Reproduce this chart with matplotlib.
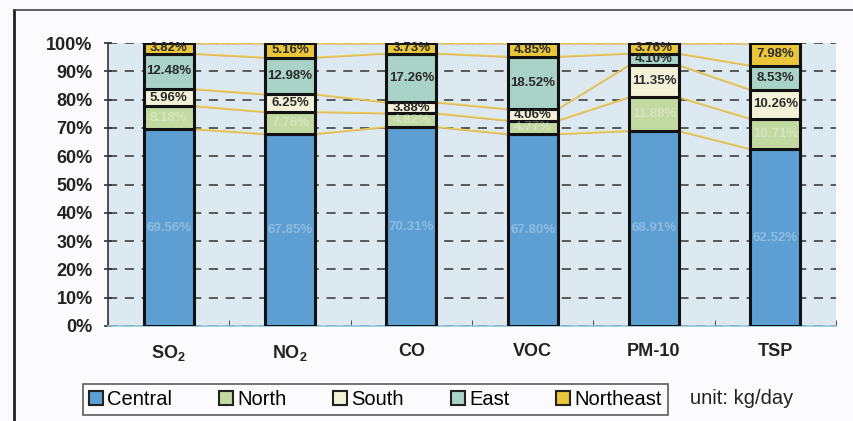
import matplotlib
matplotlib.use("Agg")
import matplotlib.pyplot as plt
from matplotlib.patches import Rectangle
import numpy as np

plt.rcParams['font.family'] = ['Liberation Sans', 'DejaVu Sans']
plt.rcParams['mathtext.fontset'] = 'custom'
plt.rcParams['mathtext.rm'] = 'Liberation Sans'
plt.rcParams['mathtext.bf'] = 'Liberation Sans:bold'
plt.rcParams['mathtext.default'] = 'bf'

categories = [r'SO$_2$', r'NO$_2$', 'CO', 'VOC', 'PM-10', 'TSP']
series_names = ['Central', 'North', 'South', 'East', 'Northeast']
central = [69.56, 67.85, 70.31, 67.80, 68.91, 62.52]
north = [8.18, 7.76, 4.82, 4.77, 11.88, 10.71]
south = [5.96, 6.25, 3.88, 4.06, 11.35, 10.26]
east = [12.48, 12.98, 17.26, 18.52, 4.10, 8.53]
northeast = [3.82, 5.16, 3.73, 4.85, 3.76, 7.98]
yticklabels = ['0%', '10%', '20%', '30%', '40%', '50%', '60%', '70%', '80%', '90%', '100%']
unit_text = 'unit: kg/day'

colors = ['#5d9fd3', '#c3d9a2', '#f3f1d8', '#a9d3c6', '#e9c63a']
data = [central, north, south, east, northeast]

fig = plt.figure(figsize=(8.54, 4.21), dpi=100)
fig.patch.set_facecolor('#fbfbfd')
ax = fig.add_axes([108/854, 1-326/421, (836-108)/854, (326-43)/421])
ax.set_facecolor('#dde9f1')

x = np.arange(len(categories))
w = 50/121.5
bottom = np.zeros(len(categories))
tops = []
for vals, col in zip(data, colors):
    vals = np.array(vals)
    ax.bar(x, vals, w, bottom=bottom, color=col, edgecolor='#111111', linewidth=2.2, zorder=3)
    bottom = bottom + vals
    tops.append(bottom.copy())

# series lines between bars
for t in tops:
    for i in range(len(categories) - 1):
        ax.plot([x[i] + w/2, x[i+1] - w/2], [t[i], t[i+1]], color='#e8cf4a', lw=1.3, zorder=2)
        ax.plot([x[i] + w/2, x[i+1] - w/2], [t[i] - 0.25, t[i+1] - 0.25], color='#d89a70', lw=0.6, alpha=0.6, zorder=2)

# labels
bottom = np.zeros(len(categories))
for k, vals in enumerate(data):
    vals = np.array(vals)
    for i in range(len(categories)):
        yc = bottom[i] + vals[i] / 2
        if k >= 2:
            ax.text(x[i], yc, f'{vals[i]:.2f}%', ha='center', va='center', fontsize=9.5,
                    fontweight='bold', color='#2a2a2a', zorder=5)
        else:
            ax.text(x[i], yc, f'{vals[i]:.2f}%', ha='center', va='center', fontsize=9.5,
                    fontweight='bold', color='white', alpha=0.3, zorder=5)
    bottom = bottom + vals

ax.set_xlim(-0.5, len(categories) - 0.5)
ax.set_ylim(0, 100)
ax.set_yticks(np.arange(0, 101, 10))
ax.set_yticklabels(yticklabels, fontsize=13, fontweight='bold', color='#222222')
ax.set_xticks(x)
ax.set_xticklabels(categories, fontsize=13, fontweight='bold', color='#222222')
ax.set_xticks(np.arange(-0.5, len(categories), 1), minor=True)
ax.tick_params(axis='x', which='major', length=0, pad=12)
ax.tick_params(axis='x', which='minor', length=4, direction='in', color='#333333')
ax.tick_params(axis='y', length=6, direction='inout', width=1.2, color='#333333', pad=8)
ax.yaxis.grid(True, linestyle=(0, (6, 5)), color='#333333', lw=1.1, zorder=1)
ax.set_axisbelow(True)
for s in ['top', 'right']:
    ax.spines[s].set_visible(False)
ax.spines['left'].set_color('#333333')
ax.spines['left'].set_linewidth(1.2)
ax.spines['bottom'].set_color('#8fc6d8')
ax.spines['bottom'].set_linewidth(1.2)

# legend
handles = [Rectangle((0, 0), 1, 1, facecolor=c, edgecolor='#222222', lw=1.5) for c in colors]
leg = fig.legend(handles, series_names, loc='lower left', bbox_to_anchor=(83/854, 6/421, (668-83)/854, 33/421),
                 ncol=5, mode='expand', fontsize=14.5, frameon=True, fancybox=False,
                 handlelength=0.7, handleheight=0.7, handletextpad=0.2, columnspacing=0.8,
                 borderaxespad=0, borderpad=0.3)
leg.get_frame().set_edgecolor('#333333')
leg.get_frame().set_linewidth(1.2)
leg.get_frame().set_facecolor('#fbfbfd')
fig.text(690/854, 1-399/421, unit_text, fontsize=14.5, va='center', ha='left', color='#222222')

# outer border
fig.add_artist(plt.Line2D([14/854, 14/854], [0, 1-10/421], color='#222222', lw=2, transform=fig.transFigure))
fig.add_artist(plt.Line2D([14/854, 1], [1-10/421, 1-10/421], color='#444444', lw=1.2, transform=fig.transFigure))

fig.savefig('out.png', dpi=100, facecolor=fig.get_facecolor())
